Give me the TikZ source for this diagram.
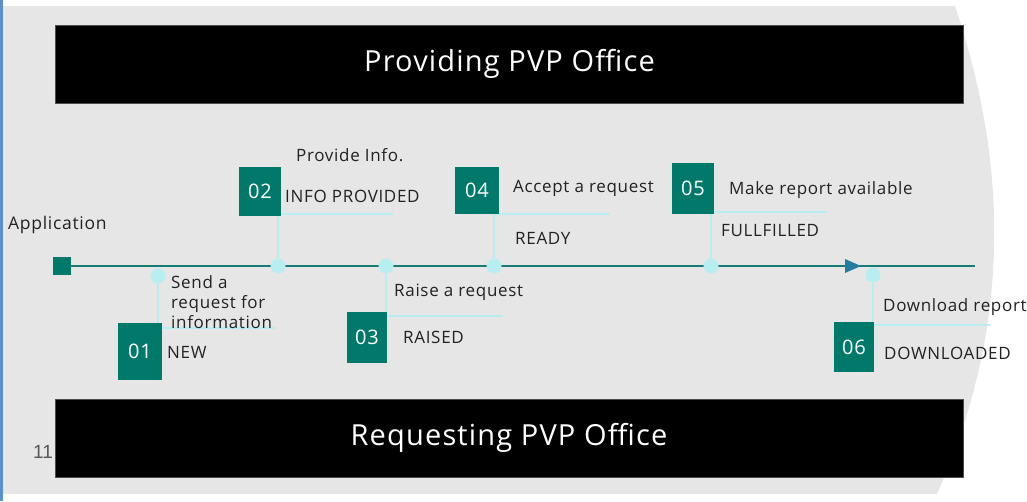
\documentclass[tikz,border=0pt]{standalone}
\usepackage{fontspec}
\setmainfont{Open Sans}[LetterSpace=4]
\newfontfamily\pagefont{Liberation Sans}
\usetikzlibrary{positioning,calc}

\definecolor{stepteal}{RGB}{0,121,107}
\definecolor{stemcyan}{RGB}{184,238,240}
\definecolor{flowteal}{RGB}{22,124,117}
\definecolor{tipblue}{RGB}{38,124,158}
\definecolor{slidegray}{RGB}{230,230,230}
\definecolor{edgeblue}{RGB}{91,143,208}
\definecolor{labelink}{RGB}{34,34,34}

\tikzset{
  numbox/.style={fill=stepteal, text=white, inner sep=0pt, font=\fontsize{20}{20}\selectfont},
  dot/.style={circle, fill=stemcyan, minimum size=15pt, inner sep=0pt},
  stem/.style={draw=stemcyan, line width=2pt},
  lbl/.style={anchor=west, inner sep=0pt, text=labelink, font=\fontsize{17}{19.7}\selectfont, align=left},
  banner/.style={fill=black, draw=black!70, line width=0.8pt, text=white, font=\fontsize{29}{29}\selectfont,
    inner sep=0pt, minimum width=908pt, minimum height=78pt},
}

\begin{document}
\begin{tikzpicture}[x=1pt, y=-1pt, line join=round]
\useasboundingbox (0,0) rectangle (1027,501);
% slide background
\fill[slidegray] (3,6) -- (955,6) .. controls (1010,170) and (1010,330) .. (937,494) -- (3,494) -- cycle;
\fill[edgeblue] (0,0) rectangle (2.5,501);
% banners
\node[banner] (prov) at (509.5,64) {Providing PVP Office};
\node[banner] (req)  at (509,438)  {Requesting PVP Office};
\node[font=\pagefont\fontsize{19}{19}\selectfont, text=black!65, inner sep=0pt] (page) at (43,452) {11};
% timeline
\node[fill=stepteal, minimum size=18pt, inner sep=0pt] (start) at (62,266) {};
\coordinate (stop) at (975,266);
\draw[flowteal, line width=2.5pt] (start) -- (stop);
\fill[tipblue] (845,259) -- (861,266) -- (845,273) -- cycle;
\node[lbl, font=\fontsize{17.5}{17.5}\selectfont] (app) at (8,225) {Application};
% dots
\node[dot] (d1) at (158,276) {};
\node[dot] (d2) at (278,266) {};
\node[dot] (d3) at (386,266) {};
\node[dot] (d4) at (494,266) {};
\node[dot] (d5) at (711,266) {};
\node[dot] (d6) at (873,275) {};
% stem ends
\coordinate (h1) at (275,328);
\coordinate (h2) at (393,214);
\coordinate (h3) at (503,316);
\coordinate (h4) at (610,214);
\coordinate (h5) at (827,212);
\coordinate (h6) at (990,325);
\draw[stem] (d1) |- (h1);
\draw[stem] (d2) |- (h2);
\draw[stem] (d3) |- (h3);
\draw[stem] (d4) |- (h4);
\draw[stem] (d5) |- (h5);
\draw[stem] (d6) |- (h6);
% step boxes
\node[numbox, minimum width=44pt, minimum height=57pt] (b1) at (140,351.5) {01};
\node[numbox, minimum width=42pt, minimum height=49pt] (b2) at (260,191.5) {02};
\node[numbox, minimum width=40pt, minimum height=51pt] (b3) at (367,337.5) {03};
\node[numbox, minimum width=44pt, minimum height=47pt] (b4) at (477,190.5) {04};
\node[numbox, minimum width=42pt, minimum height=51pt] (b5) at (693,188.5) {05};
\node[numbox, minimum width=40pt, minimum height=50pt] (b6) at (854,347)   {06};
% labels
\node[lbl] (t1a) at (171,302) {Send a\\request for\\information};
\node[lbl] (t1b) at (167,352) {NEW};
\node[lbl] (t2a) at (296,155) {Provide Info.};
\node[lbl] (t2b) at (285,196) {INFO PROVIDED};
\node[lbl] (t3a) at (394,292) {Raise a request};
\node[lbl] (t3b) at (403,337) {RAISED};
\node[lbl] (t4a) at (513,188) {Accept a request};
\node[lbl] (t4b) at (515,238) {READY};
\node[lbl] (t5a) at (729,190) {Make report available};
\node[lbl] (t5b) at (721,231) {FULLFILLED};
\node[lbl] (t6a) at (883,307) {Download report};
\node[lbl] (t6b) at (884,353) {DOWNLOADED};
\end{tikzpicture}
\end{document}
